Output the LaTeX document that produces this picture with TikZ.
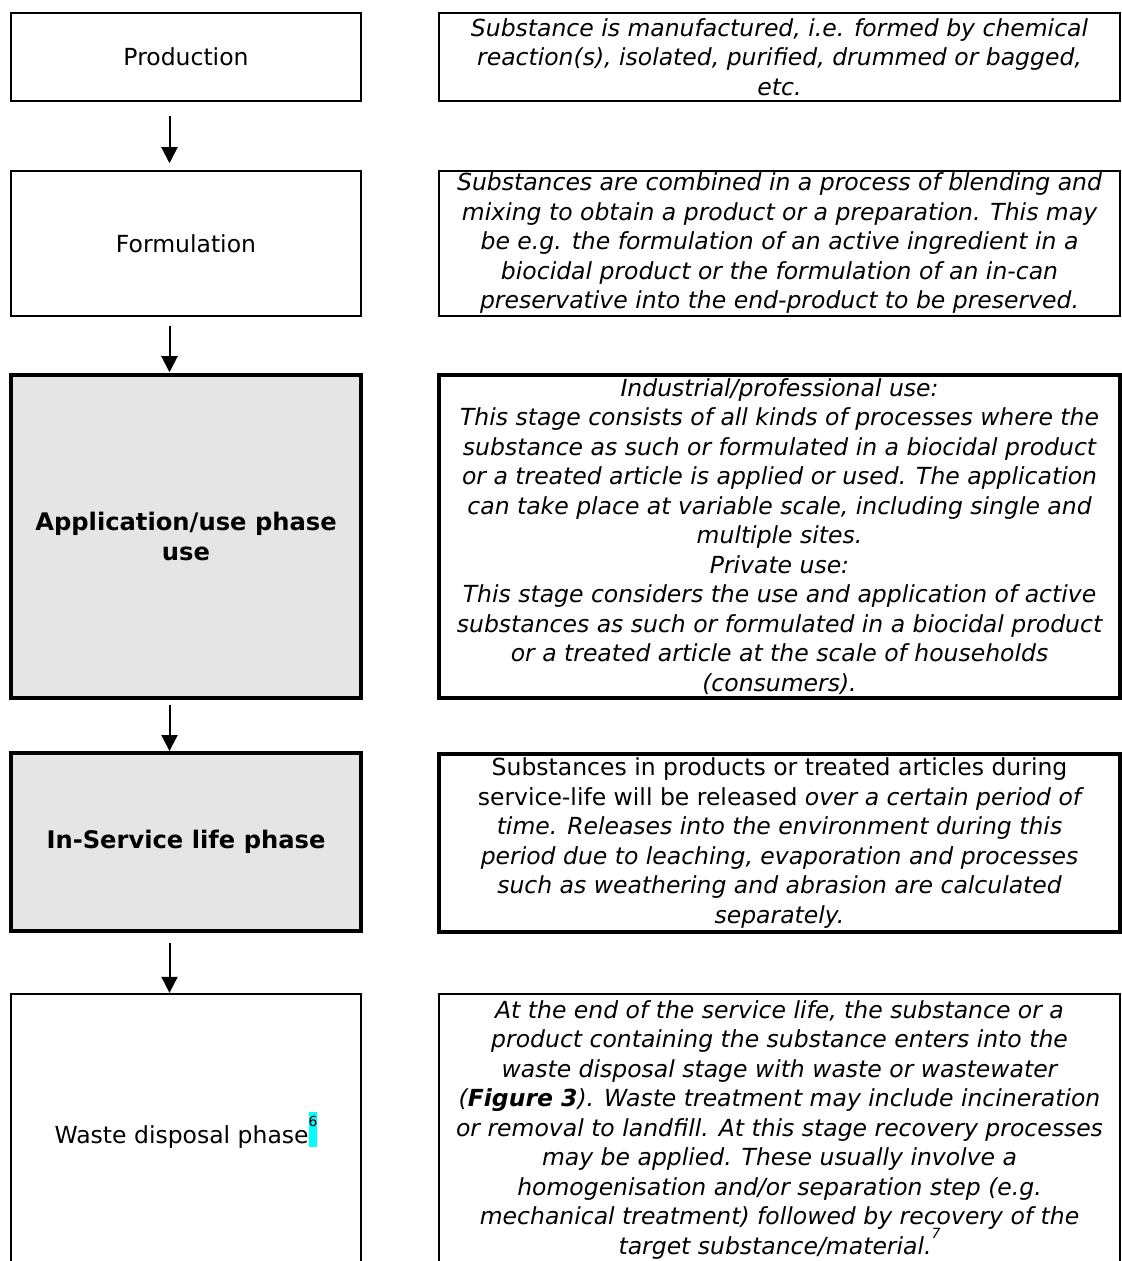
\documentclass[tikz,border=0pt]{standalone}
\usepackage{fontspec}
\setmainfont{DejaVu Sans}[ItalicFont={DejaVu Sans Oblique},BoldFont={DejaVu Sans Bold},BoldItalicFont={DejaVu Sans Bold Oblique}]
\usetikzlibrary{arrows.meta}

\definecolor{phasegray}{HTML}{E5E5E5}
\definecolor{hlcyan}{HTML}{00FFFF}

\newcommand\basefont{\fontsize{11.75}{14.75}\selectfont}
\newcommand\boldfont{\fontsize{12.1}{14.75}\selectfont\bfseries}
% highlighted footnote mark
\newcommand\hlmark[1]{{\setlength{\fboxsep}{0pt}\colorbox{hlcyan}{\rule[-1.5pt]{0pt}{17.5pt}\raisebox{8.5pt}{\fontsize{6.9}{8}\selectfont #1}}}}
% plain footnote mark
\newcommand\notemark[1]{\raisebox{8pt}[11.7pt][0pt]{\fontsize{7}{8}\selectfont #1}}

\begin{document}
\begin{tikzpicture}[x=0.5pt,y=-0.5pt,
  every node/.style={font=\basefont},
  phase/.style={draw, line width=0.75pt, minimum width=175pt, align=center, inner sep=0pt},
  keyphase/.style={phase, line width=1.75pt, fill=phasegray, font=\boldfont},
  note/.style={draw, line width=0.75pt, minimum width=340.5pt, align=center, inner sep=0pt, font=\basefont\itshape},
  keynote/.style={note, line width=1.75pt},
  flow/.style={-{Triangle[width=8pt,length=8pt]}, line width=1pt}]

\useasboundingbox (0,0) rectangle (1122,1261);
\clip (0,0) rectangle (1122,1261);

% left column: phases
\node[phase, minimum height=44pt] (prod) at (186,57) {Production};
\node[phase, minimum height=72.5pt] (form) at (186,243.5) {Formulation};
\node[keyphase, minimum height=161.5pt] (app) at (186,536.5) {Application/use phase\\use};
\node[keyphase, minimum height=89pt] (serv) at (186,842) {In-Service life phase};
\node[phase, minimum height=136pt] (waste) at (186,1130) {Waste disposal phase\hlmark{6}};

% right column: descriptions
\node[note, minimum height=44pt] (proddesc) at (779.5,57)
  {Substance is manufactured, i.e. formed by chemical\\
   reaction(s), isolated, purified, drummed or bagged,\\
   etc.};
\node[note, minimum height=72.5pt] (formdesc) at (779.5,243.5)
  {Substances are combined in a process of blending and\\
   mixing to obtain a product or a preparation. This may\\
   be e.g. the formulation of an active ingredient in a\\
   biocidal product or the formulation of an in-can\\
   preservative into the end-product to be preserved.};
\node[keynote, minimum height=161.5pt] (appdesc) at (779.5,536.5)
  {Industrial/professional use:\\
   This stage consists of all kinds of processes where the\\
   substance as such or formulated in a biocidal product\\
   or a treated article is applied or used. The application\\
   can take place at variable scale, including single and\\
   multiple sites.\\
   Private use:\\
   This stage considers the use and application of active\\
   substances as such or formulated in a biocidal product\\
   or a treated article at the scale of households\\
   (consumers).};
\node[keynote, minimum height=89pt] (servdesc) at (779.5,843)
  {{\upshape Substances in products or treated articles during}\\
   {\upshape service-life will be released} over a certain period of\\
   time. Releases into the environment during this\\
   period due to leaching, evaporation and processes\\
   such as weathering and abrasion are calculated\\
   separately.};
\node[note, minimum height=136pt] (wastedesc) at (779.5,1130)
  {At the end of the service life, the substance or a\\
   product containing the substance enters into the\\
   waste disposal stage with waste or wastewater\\
   (\textbf{Figure 3}). Waste treatment may include incineration\\
   or removal to landfill. At this stage recovery processes\\
   may be applied. These usually involve a\\
   homogenisation and/or separation step (e.g.\\
   mechanical treatment) followed by recovery of the\\
   target substance/material.\notemark{7}};

% flow arrows
\coordinate (ax) at (169.5,0);
\draw[flow, shorten <=7pt, shorten >=3.5pt] (prod.south -| ax) -- (form.north -| ax);
\draw[flow, shorten <=4.5pt, shorten >=0.5pt] (form.south -| ax) -- (app.north -| ax);
\draw[flow, shorten <=2.6pt, shorten >=0.1pt] (app.south -| ax) -- (serv.north -| ax);
\draw[flow, shorten <=5pt, shorten >=0.2pt] (serv.south -| ax) -- (waste.north -| ax);
\end{tikzpicture}
\end{document}
